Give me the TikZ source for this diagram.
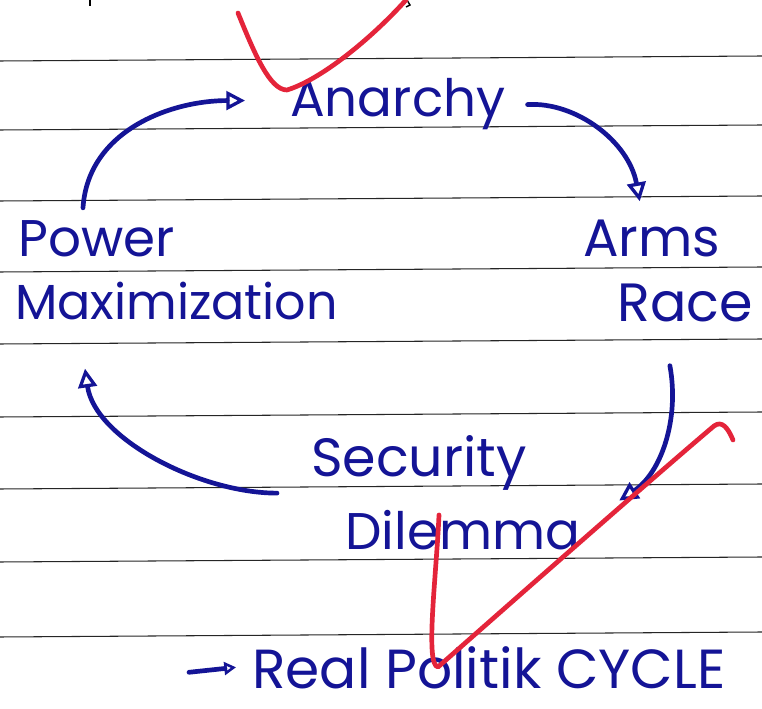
\documentclass[tikz,border=0pt]{standalone}
\usepackage{fontspec}
\setmainfont{Poppins}
\usepackage{tikz}
\usetikzlibrary{arrows.meta}
\usetikzlibrary{positioning}
\usetikzlibrary{calc}
\definecolor{ink}{RGB}{20,20,150}
\definecolor{pen}{RGB}{228,36,58}
\tikzstyle{line} = [draw=ink, line width=4pt, line cap=round,
	-{Triangle[open,length=16pt,width=16pt,line width=2.8pt]}]
\tikzset{
	word/.style={text=ink, inner sep=0pt, anchor=base west, font=\fontsize{44}{48}\selectfont},
	rule/.style={draw=black!85, line width=0.9pt},
	tick/.style={draw=pen, line width=4pt, line cap=round, line join=round},
}

\begin{document}
\begin{tikzpicture}[x=0.3mm, y=-0.3mm]
	\useasboundingbox[fill=white] (0,0) rectangle (762,709);
	% ruled paper
	\foreach \y in {59,128,199,270,342,415,487,560,635}
		\draw[rule] (0,\y+2) -- (762,\y-3);
	% leftovers of the line above
	\draw[line width=1.2pt] (90,0) -- (90,6);
	\draw[line width=1.2pt] (407,0) -- (410,5) -- (406,7);
	% the words
	\node[word] (anarchy) at (290,117) {Anarchy};
	\node[word] (power) at (18,257) {Power};
	\node[word, font=\fontsize{42}{46}\selectfont] (maxim) at (15,320) {Maximization};
	\node[word, font=\fontsize{45}{48}\selectfont] (arms) at (583,257) {Arms};
	\node[word, font=\fontsize{46}{48}\selectfont] (race) at (617,322) {Race};
	\node[word, font=\fontsize{46}{48}\selectfont] (secur) at (311,477) {Security};
	\node[word] (dilem) at (345,550) {Dilemma};
	\node[word, font=\fontsize{47}{50}\selectfont] (realpol) at (252,689) {Real Politik CYCLE};
	% the cycle
	\draw[line] ($(power.north west)+(65,-13)$) .. controls +(5,-78) and +(-73,0) .. ($(anarchy.west)+(-45,-4)$);
	\draw[line] ($(anarchy.east)+(22,0)$) .. controls +(48,-3) and +(-11,-60) .. ($(arms.north)+(-12,-19)$);
	\draw[line] ($(race.south)+(-15,43)$) .. controls +(10,55) and +(41,-27) .. ($(dilem.north east)+(39,-10)$);
	\draw[line] ($(secur.south west)+(-34,2)$) .. controls +(-77,0) and +(10,70) .. ($(maxim.south west)+(70,48)$);
	\draw[line, -{Triangle[open,length=10pt,width=11pt,line width=2.2pt]}] ($(realpol.west)+(-63,4)$) -- ($(realpol.west)+(-16,-1)$);
	% red marks
	\draw[tick] (238,13) .. controls (255,55) and (270,90) .. (287,90)
		.. controls (320,80) and (370,40) .. (406,0);
	\draw[tick] (439,515) .. controls (436,580) and (425,665) .. (438,667)
		.. controls (480,630) and (650,480) .. (714,426)
		.. controls (722,420) and (728,428) .. (733,440);
\end{tikzpicture}
\end{document}
